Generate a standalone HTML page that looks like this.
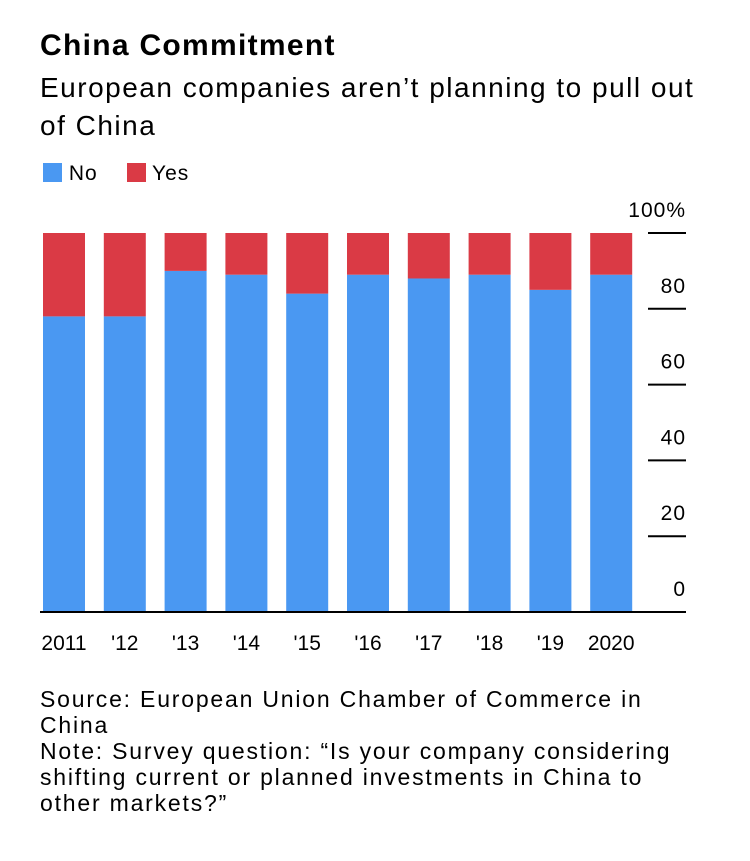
<!DOCTYPE html>
<html><head><meta charset="utf-8"><style>
body{margin:0;background:#fff;font-family:"Liberation Sans",sans-serif;color:#000;}
.wrap{position:relative;width:750px;height:861px;}
.t{position:absolute;left:40px;white-space:nowrap;}
</style></head><body><div class="wrap">
<div class="t" style="top:29px;font-size:30px;font-weight:bold;letter-spacing:1.3px;">China Commitment</div>
<div class="t" style="top:69px;font-size:28px;line-height:38px;letter-spacing:1.5px;">European companies aren’t planning to pull out<br>of China</div>
<div style="position:absolute;left:43px;top:162px;font-size:21px;letter-spacing:1px;">
<span><span style="display:inline-block;width:19px;height:19px;background:#4a98f2;vertical-align:-2px;"></span> No</span>
<span style="margin-left:22px;"><span style="display:inline-block;width:19px;height:19px;background:#da3a45;vertical-align:-2px;"></span> Yes</span>
</div>
<svg id="c" width="750" height="861" style="position:absolute;left:0;top:0"></svg>
<div class="t" style="top:686px;font-size:23px;line-height:26px;letter-spacing:1.8px;">Source: European Union Chamber of Commerce in<br>China<br>Note: Survey question: “Is your company considering<br>shifting current or planned investments in China to<br>other markets?”</div>
</div>
<script>
const categories=["2011","'12","'13","'14","'15","'16","'17","'18","'19","2020"];
const noValues=[78,78,90,89,84,89,88,89,85,89];
const yesValues=[22,22,10,11,16,11,12,11,15,11];
const yTicks=[0,20,40,60,80,100];
const yTickLabels=["0","20","40","60","80","100%"];
const svg=document.getElementById('c');const NS='http://www.w3.org/2000/svg';
const y0=612,y1=233;
function y(v){return y0-(v/100)*(y0-y1);}
function x(i){return 43+i*60.8;}
const bw=42;
function mk(t,a){const e=document.createElementNS(NS,t);for(const k in a)e.setAttribute(k,a[k]);svg.appendChild(e);return e;}
yTicks.forEach((v,i)=>{
 const l=mk('line',{x1:648,x2:686,y1:y(v),y2:y(v),stroke:'#000','stroke-width':2});
 
 
 const t=mk('text',{x:686,y:y(v)-16,'text-anchor':'end','font-size':21,'letter-spacing':1,'font-family':'Liberation Sans, sans-serif'});
 t.textContent=yTickLabels[i];
 
 
});
categories.forEach((c,i)=>{
 const n=noValues[i],s=yesValues[i];
 const b=mk('rect',{x:x(i),y:y(n),width:bw,height:y(0)-y(n),fill:'#4a98f2'});
 
 
 const r=mk('rect',{x:x(i),y:y(n+s),width:bw,height:y(n)-y(n+s),fill:'#da3a45'});
 
 
 const t=mk('text',{x:x(i)+bw/2,y:650,'text-anchor':'middle','font-size':21,'font-family':'Liberation Sans, sans-serif'});
 t.textContent=c;
 
 
});
const base=mk('line',{x1:40,x2:686,y1:y0,y2:y0,stroke:'#000','stroke-width':2});


</script></body></html>
